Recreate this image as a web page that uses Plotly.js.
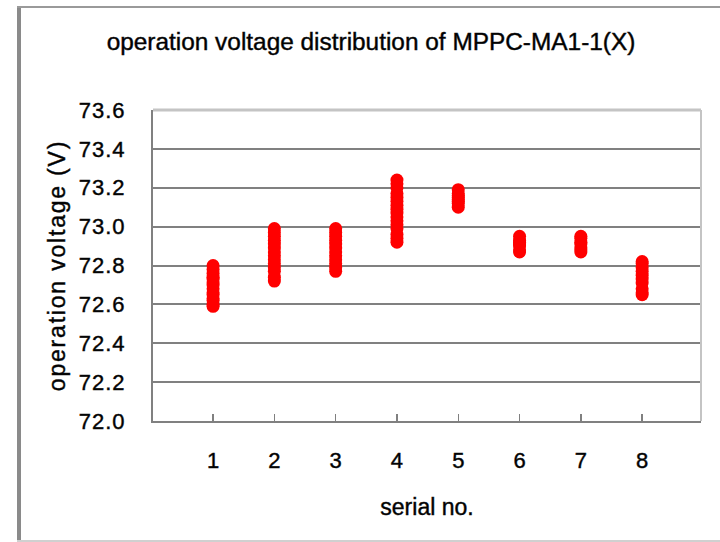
<!DOCTYPE html>
<html>
<head>
<meta charset="utf-8">
<script src="https://cdn.plot.ly/plotly-3.0.1.min.js"></script>
<style>
  html, body { margin: 0; padding: 0; background: #fff; }
  #chart { width: 720px; height: 542px; }
  #chart .main-svg text { stroke: #111; stroke-width: 0.45px; }
  #chart .ytick text { letter-spacing: 1px; }
  #chart .ytitle { letter-spacing: 1.8px; }
</style>
</head>
<body>
<div id="chart"></div>
<script>
// ---- data ----
const serials = [1, 2, 3, 4, 5, 6, 7, 8];
const tickLabels = ["1", "2", "3", "4", "5", "6", "7", "8"];
const voltage1 = [72.59, 72.60, 72.62, 72.63, 72.65, 72.66, 72.68, 72.70, 72.71, 72.73, 72.74, 72.76, 72.78, 72.80];
const voltage2 = [72.72, 72.74, 72.77, 72.79, 72.81, 72.83, 72.85, 72.87, 72.89, 72.91, 72.93, 72.95, 72.97, 72.99];
const voltage3 = [72.77, 72.79, 72.81, 72.83, 72.85, 72.87, 72.89, 72.91, 72.93, 72.95, 72.97, 72.99];
const voltage4 = [72.92, 72.94, 72.96, 72.99, 73.01, 73.03, 73.05, 73.07, 73.09, 73.11, 73.13, 73.15, 73.17, 73.20, 73.22, 73.24];
const voltage5 = [73.10, 73.12, 73.13, 73.14, 73.15, 73.16, 73.17, 73.19];
const voltage6 = [72.87, 72.88, 72.90, 72.91, 72.92, 72.93, 72.95];
const voltage7 = [72.87, 72.88, 72.89, 72.91, 72.92, 72.94, 72.95];
const voltage8 = [72.65, 72.66, 72.68, 72.71, 72.73, 72.75, 72.77, 72.79, 72.81, 72.82];
const yTicks = [72.0, 72.2, 72.4, 72.6, 72.8, 73.0, 73.2, 73.4, 73.6];

const groups = [voltage1, voltage2, voltage3, voltage4, voltage5, voltage6, voltage7, voltage8];
const xs = [], ys = [];
groups.forEach((g, i) => g.forEach(v => { xs.push(serials[i]); ys.push(v); }));

const FONT = "Liberation Sans, Arial, sans-serif";
const W = 548, H = 311, L = 153, T = 110;
const px = x => (x - L) / W;
const py = y => (T + H - y) / H;

const trace = {
  type: "scatter",
  mode: "markers",
  x: xs,
  y: ys,
  marker: { color: "#ff0000", size: 13, line: { width: 0 } },
  hoverinfo: "x+y"
};

const layout = {
  width: 720,
  height: 542,
  margin: { l: 153, r: 19, t: 110, b: 121 },
  paper_bgcolor: "#ffffff",
  plot_bgcolor: "#ffffff",
  showlegend: false,
  title: {
    text: "operation voltage distribution of MPPC-MA1-1(X)",
    font: { family: FONT, size: 24.4, color: "#000" },
    xref: "container", yref: "container",
    x: 371 / 720, xanchor: "center",
    y: 1 - 41 / 542, yanchor: "middle"
  },
  xaxis: {
    range: [0.02, 8.96],
    tickvals: serials,
    ticktext: tickLabels,
    ticks: "inside",
    ticklen: 7,
    tickwidth: 1.5,
    tickcolor: "#808080",
    showline: true,
    linecolor: "#808080",
    linewidth: 2,
    showgrid: false,
    zeroline: false,
    ticklabelstandoff: 19,
    tickfont: { family: FONT, size: 22, color: "#000" },
    title: { text: "serial no.", font: { family: FONT, size: 23, color: "#000" }, standoff: 26 }
  },
  yaxis: {
    range: [72.0, 73.6],
    tickvals: yTicks,
    tickformat: ".1f",
    ticks: "inside",
    ticklen: 6,
    tickwidth: 1.5,
    tickcolor: "#808080",
    showline: true,
    linecolor: "#808080",
    linewidth: 2,
    showgrid: true,
    gridcolor: "#808080",
    gridwidth: 2,
    zeroline: false,
    ticklabelstandoff: 21,
    tickfont: { family: FONT, size: 22, color: "#000" },
    title: { text: "operation voltage (V)", font: { family: FONT, size: 23, color: "#000" }, standoff: 11 }
  },
  shapes: [
    // light plot-area border on top and right
    { type: "line", xref: "paper", yref: "paper", x0: 0, x1: 1, y0: 1, y1: 1, line: { color: "#c4c4c4", width: 3 }, layer: "above" },
    { type: "line", xref: "paper", yref: "paper", x0: 1, x1: 1, y0: 0, y1: 1, line: { color: "#c4c4c4", width: 2 }, layer: "above" },
    // outer chart frame
    { type: "line", xref: "paper", yref: "paper", x0: px(19), x1: px(19), y0: py(542), y1: py(6), line: { color: "#8a8a8a", width: 4 } },
    { type: "line", xref: "paper", yref: "paper", x0: px(17), x1: px(722), y0: py(7), y1: py(7), line: { color: "#9a9a9a", width: 2 } },
    { type: "line", xref: "paper", yref: "paper", x0: px(17), x1: px(722), y0: py(541), y1: py(541), line: { color: "#d0d0d0", width: 2 } }
  ]
};

Plotly.newPlot("chart", [trace], layout, { displayModeBar: false, staticPlot: true });
</script>
</body>
</html>
